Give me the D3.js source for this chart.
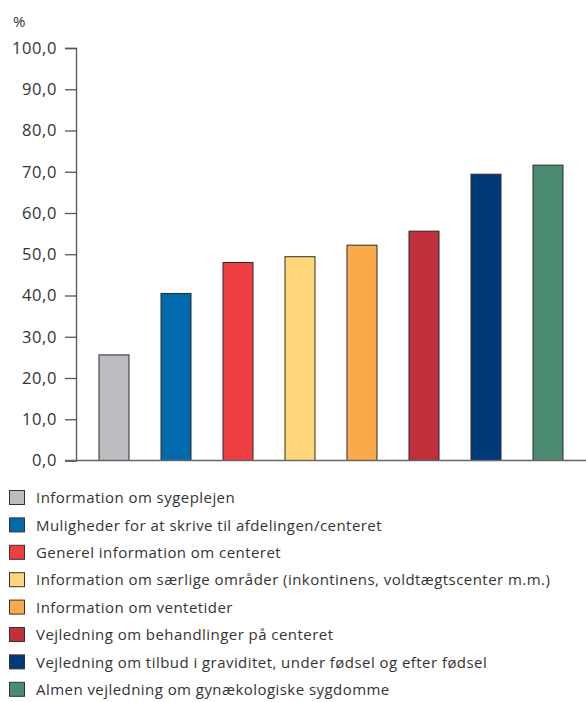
<!DOCTYPE html>
<html><head><meta charset="utf-8">
<script src="https://d3js.org/d3.v7.min.js"></script>
<style>body{margin:0;background:#fff}svg{display:block}text{font-family:"Open Sans",sans-serif;fill:#333}</style>
</head><body>
<script>
const categories = [
  "Information om sygeplejen",
  "Muligheder for at skrive til afdelingen/centeret",
  "Generel information om centeret",
  "Information om særlige områder (inkontinens, voldtægtscenter m.m.)",
  "Information om ventetider",
  "Vejledning om behandlinger på centeret",
  "Vejledning om tilbud i graviditet, under fødsel og efter fødsel",
  "Almen vejledning om gynækologiske sygdomme"
];
const values = [25.6, 40.5, 48.0, 49.4, 52.2, 55.6, 69.4, 71.6];
const colors = ["#bcbdc0", "#006aad", "#ee3e42", "#ffd77a", "#fbaa4b", "#c1303a", "#003a78", "#4b8b72"];
const yTicks = [0, 10, 20, 30, 40, 50, 60, 70, 80, 90, 100];
const yUnit = "%";

const W = 586, H = 702;
const svg = d3.select("body").append("svg").attr("width", W).attr("height", H);

const x = d3.scaleBand().domain(categories).range([76, 586]).paddingInner(0.516).paddingOuter(0.371);
const y = d3.scaleLinear().domain([0, 100]).range([460.5, 48]);

const fmt = v => d3.format(".1f")(v).replace(".", ",");

const yAxis = svg.append("g").attr("transform", "translate(76,0)")
  .call(d3.axisLeft(y).tickValues(yTicks).tickFormat(fmt).tickSize(11).tickPadding(8));
yAxis.select(".domain").attr("stroke", "#555").attr("stroke-width", 1.3);
yAxis.selectAll(".tick line").attr("stroke", "#555").attr("stroke-width", 1.3);
yAxis.selectAll(".tick text").style("font-family", '"Open Sans",sans-serif').style("font-size", "16.5px")
  .style("letter-spacing", "0.6px").attr("fill", "#333");

svg.append("text").attr("x", 13).attr("y", 27).style("font-size", "15px").text(yUnit);

svg.selectAll("rect.bar").data(values).join("rect").attr("class", "bar")
  .attr("x", (d, i) => x(categories[i]))
  .attr("width", x.bandwidth())
  .attr("y", d => y(d))
  .attr("height", d => y(0) - y(d))
  .attr("fill", (d, i) => colors[i])
  .attr("stroke", "#2a2a2a").attr("stroke-width", 1);

svg.append("line").attr("x1", 65).attr("x2", 586).attr("y1", y(0)).attr("y2", y(0))
  .attr("stroke", "#666").attr("stroke-width", 1.3);

const leg = svg.append("g");
const rows = leg.selectAll("g").data(categories).join("g")
  .attr("transform", (d, i) => `translate(0,${498 + i * 27.4})`);
rows.append("rect").attr("x", 9.5).attr("y", -7.5).attr("width", 15).attr("height", 14)
  .attr("fill", (d, i) => colors[i]).attr("stroke", "#333").attr("stroke-width", 1);
rows.append("text").attr("x", 36).attr("y", 0).attr("dy", "0.35em")
  .style("font-size", "15px").style("letter-spacing", "0.45px").text(d => d);
</script>
</body></html>
